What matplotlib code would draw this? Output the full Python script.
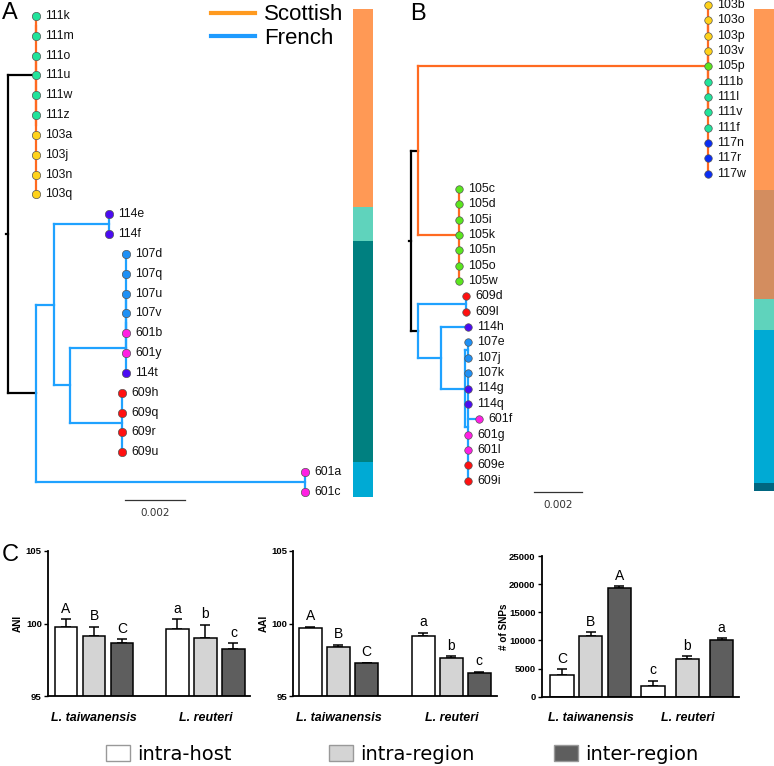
import matplotlib
matplotlib.use('Agg')
import matplotlib.pyplot as plt
from matplotlib.lines import Line2D
from matplotlib.patches import Patch
import numpy as np

plt.rcParams['font.family'] = ['Liberation Sans', 'DejaVu Sans']

# ---------------- data ----------------
# Phylogenies (Newick, branch lengths in substitutions/site)
TREE_A = ("(((111k:0,111m:0):0,(111o:0,111u:0,111w:0,111z:0,103a:0,103j:0,103n:0,103q:0):0):0.00093,"
          "(((114e:0,114f:0):0.00183,((((107d:0,107q:0,107u:0,107v:0,601b:0):0,601y:0):0,114t:0):0.00187,"
          "(609h:0,609q:0,609r:0,609u:0):0.00173):0.00053):0.0006,(601a:0,601c:0):0.00897):0.00093);")
TREE_B = ("((((103b:0,103o:0,103p:0):0,(103v:0,105p:0,111b:0,111l:0,111v:0,111f:0,117n:0,117r:0,117w:0):0):0.01208,"
          "(105c:0,105d:0,105i:0,105k:0,105n:0,105o:0,105w:0):0.00171):0.00029,"
          "((609d:0,609l:0):0.002,(114h:0.00111,((107e:0,107j:0):0.00011,"
          "(107k:0,114g:0,114q:0,601f:0.00047,601g:0,601l:0,609e:0,609i:0):0.00011):0.001):0.00096):0.00029);")
REGIONS = ['Scottish', 'French']
HOSTS = ['103', '105', '111', '114', '117', '107', '601', '609']
HOST_COLORS = ['#FFD21A', '#5BE61E', '#22E39B', '#4B0BF2', '#0A2DF5', '#1E90F5', '#FF1FE3', '#FF1010']
SCALE_LEN = 0.002

# cluster bars (percent of bar length)
BAR_A = [40.6, 7.0, 45.3, 7.1]
BAR_A_COLORS = ['#FF9955', '#5FD3BC', '#008080', '#00AAD4']
BAR_B = [37.6, 22.6, 6.4, 31.7, 1.7]
BAR_B_COLORS = ['#FF9955', '#D38D5F', '#5FD3BC', '#00AAD4', '#006680']

# panel C
GROUPS = ['L. taiwanensis', 'L. reuteri']
CLASSES = ['intra-host', 'intra-region', 'inter-region']
ANI_MEAN = [[99.78, 99.14, 98.63], [99.62, 98.98, 98.22]]
ANI_ERR = [[0.50, 0.64, 0.30], [0.69, 0.92, 0.41]]
ANI_LET = [['A', 'B', 'C'], ['a', 'b', 'c']]
AAI_MEAN = [[99.67, 98.40, 97.25], [99.14, 97.60, 96.60]]
AAI_ERR = [[0.10, 0.14, 0.05], [0.23, 0.16, 0.07]]
AAI_LET = [['A', 'B', 'C'], ['a', 'b', 'c']]
SNP_MEAN = [[3875, 10714, 19232], [1964, 6679, 10125]]
SNP_ERR = [[1020, 786, 410], [840, 535, 232]]
SNP_LET = [['C', 'B', 'A'], ['c', 'b', 'a']]

# ---------------- styles ----------------
REGION_LINE = ['#FF6A21', '#1FA2FF']
REGION_LEG = ['#FF9A1F', '#1E9BFF']
CLASS_COLORS = ['white', '#D4D4D4', '#5E5E5E']

W, H = 774, 766
fig = plt.figure(figsize=(W / 100, H / 100), dpi=100)


def px_axes(l, t, r, b):
    return fig.add_axes([l / W, 1 - b / H, (r - l) / W, (b - t) / H])


# ---------------- tree helpers ----------------
def parse(s):
    pos = 0

    def node():
        nonlocal pos
        children = []
        if s[pos] == '(':
            pos += 1
            while True:
                children.append(node())
                if s[pos] == ',':
                    pos += 1
                    continue
                if s[pos] == ')':
                    pos += 1
                    break
        start = pos
        while s[pos] not in ':,);':
            pos += 1
        name = s[start:pos]
        length = 0.0
        if s[pos] == ':':
            pos += 1
            start = pos
            while s[pos] not in ',);':
                pos += 1
            length = float(s[start:pos])
        return {'name': name, 'len': length, 'children': children}

    return node()


def layout(tree):
    leaves = []

    def rec(n, x):
        n['x'] = x + n['len']
        if not n['children']:
            n['y'] = len(leaves)
            leaves.append(n)
        else:
            for c in n['children']:
                rec(c, n['x'])
            n['y'] = (n['children'][0]['y'] + n['children'][-1]['y']) / 2
    tree['len'] = 0.0
    rec(tree, 0.0)
    return leaves


def draw_tree(ax, tree, lw, ms, fs, stub):
    leaves = layout(tree)

    def rec(n, color):
        if not n['children']:
            return
        ax.plot([n['x'], n['x']], [n['children'][0]['y'], n['children'][-1]['y']],
                color=color, lw=lw, solid_capstyle='projecting', zorder=2)
        for c in n['children']:
            ax.plot([n['x'], c['x']], [c['y'], c['y']], color=color, lw=lw,
                    solid_capstyle='projecting', zorder=2)
    root = tree
    ax.plot([root['x'], root['x']], [root['children'][0]['y'], root['children'][-1]['y']],
            color='black', lw=lw, zorder=2)
    ax.plot([root['x'] - stub, root['x']], [root['y'], root['y']], color='black', lw=lw, zorder=2)
    for i, c in enumerate(root['children']):
        ax.plot([root['x'], c['x']], [c['y'], c['y']], color='black', lw=lw, zorder=2)

        def sub(n, col):
            rec(n, col)
            for cc in n['children']:
                sub(cc, col)
        sub(c, REGION_LINE[i])
    for lf in leaves:
        col = HOST_COLORS[HOSTS.index(lf['name'][:3])]
        ax.plot(lf['x'], lf['y'], 'o', ms=ms, mfc=col, mec='#555555', mew=0.5, zorder=3)
        ax.annotate(lf['name'], (lf['x'], lf['y']), xytext=(6.8, 0), textcoords='offset points',
                    va='center', ha='left', fontsize=fs, color='#111111')
    return leaves


# ---------------- Tree A ----------------
kA = 0.002 / 60
sA = 19.83
axA = px_axes(0, 0, 390, 530)
axA.set_xlim(-8 * kA, 382 * kA)
axA.set_ylim((530 - 16) / sA, -16 / sA)
axA.axis('off')
draw_tree(axA, parse(TREE_A), lw=1.6, ms=6.0, fs=8.8, stub=2 * kA)
yA = (500 - 16) / sA
axA.plot([117 * kA, 117 * kA + SCALE_LEN], [yA, yA], color='#333333', lw=0.9)
axA.text(117 * kA + SCALE_LEN / 2, (513 - 16) / sA, '0.002', ha='center', va='center',
         fontsize=7.5, family=['Liberation Sans Narrow', 'DejaVu Sans'], color='#333333')

# ---------------- Tree B ----------------
kB = 0.002 / 48
sB = 15.34
axB = px_axes(390, 0, 754, 530)
axB.set_xlim(-21 * kB, 343 * kB)
axB.set_ylim((530 - 5) / sB, -5 / sB)
axB.axis('off')
draw_tree(axB, parse(TREE_B), lw=1.6, ms=5.4, fs=8.9, stub=2 * kB)
yB = (492 - 5) / sB
axB.plot([123 * kB, 123 * kB + SCALE_LEN], [yB, yB], color='#333333', lw=0.9)
axB.text(123 * kB + SCALE_LEN / 2, (505 - 5) / sB, '0.002', ha='center', va='center',
         fontsize=7.5, family=['Liberation Sans Narrow', 'DejaVu Sans'], color='#333333')


# ---------------- cluster bars ----------------
def cluster_bar(ax, vals, cols):
    bottoms = np.concatenate([[0], np.cumsum(vals)[:-1]])
    ax.bar(0, vals, bottom=bottoms, width=1.0, color=cols, edgecolor='none')
    ax.set_xlim(-0.5, 0.5)
    ax.set_ylim(sum(vals), 0)
    ax.axis('off')


cluster_bar(px_axes(353, 9, 373, 497), BAR_A, BAR_A_COLORS)
cluster_bar(px_axes(754, 9, 780, 491), BAR_B, BAR_B_COLORS)

# legend for regions
leg_handles = [Line2D([], [], color=c, lw=3) for c in REGION_LEG]
fig.legend(leg_handles, REGIONS, loc='upper left', bbox_to_anchor=(211 / W, 1 - 4.5 / H),
           frameon=False, fontsize=16, handlelength=2.0, handletextpad=0.4,
           labelspacing=0.12, borderpad=0, borderaxespad=0)

# panel letters
fig.text(2 / W, 1 - 2 / H, 'A', fontsize=17, ha='left', va='top')
fig.text(410 / W, 1 - 3 / H, 'B', fontsize=17, ha='left', va='top')
fig.text(2 / W, 1 - 544 / H, 'C', fontsize=17, ha='left', va='top')


# ---------------- Panel C bars ----------------
def bar_panel(rect, means, errs, lets, ylim, yticks, ylabel, g2_start, g2_step, xl, label_x):
    ax = px_axes(*rect)
    width = 0.82
    for g in range(2):
        start = 0 if g == 0 else g2_start
        step = 1 if g == 0 else g2_step
        pos = [start + j * step for j in range(3)]
        ax.bar(pos, means[g], width=width, color=CLASS_COLORS, edgecolor='black', lw=1.1, zorder=2)
        ax.errorbar(pos, means[g], yerr=[[0, 0, 0], errs[g]], fmt='none', ecolor='black',
                    elinewidth=1.1, capsize=3.8, capthick=1.1, zorder=1)
        for p, m, e, t in zip(pos, means[g], errs[g], lets[g]):
            ax.annotate(t, (p, m + e), xytext=(0, 2.5), textcoords='offset points',
                        ha='center', va='bottom', fontsize=10)
        ax.annotate(GROUPS[g], xy=(pos[1], 0), xycoords=('data', 'axes fraction'),
                    xytext=(0, -15.5), textcoords='offset points', ha='center', va='center',
                    fontsize=9, fontweight='bold', fontstyle='italic')
    ax.set_xlim(*xl)
    ax.set_ylim(*ylim)
    ax.set_yticks(yticks)
    ax.set_xticks([])
    ax.spines['top'].set_visible(False)
    ax.spines['right'].set_visible(False)
    ax.spines['left'].set_linewidth(1.3)
    ax.spines['bottom'].set_linewidth(1.3)
    ax.tick_params(axis='y', length=3, width=1, pad=1.5, labelsize=6.8)
    for lab in ax.get_yticklabels():
        lab.set_fontweight('bold')
    ax.set_ylabel(ylabel, fontsize=7.2, fontweight='bold')
    ax.yaxis.set_label_coords(label_x, 0.5)
    ax.set_facecolor('none')
    return ax


bar_panel((48, 551, 250, 696), ANI_MEAN, ANI_ERR, ANI_LET, (95, 105), [95, 100, 105], 'ANI',
          3.98, 1.0, (-0.643, 6.57), -25 / 202)
bar_panel((293.3, 551, 497, 696), AAI_MEAN, AAI_ERR, AAI_LET, (95, 105), [95, 100, 105], 'AAI',
          4.03, 1.0, (-0.614, 6.66), -25 / 204)
bar_panel((541.7, 556, 739.3, 696.7), SNP_MEAN, SNP_ERR, SNP_LET, (0, 25000),
          [0, 5000, 10000, 15000, 20000, 25000], '# of SNPs',
          3.18, 1.19, (-0.707, 6.18), -33 / 198)

# class legend
for cls, col, x0 in zip(CLASSES, CLASS_COLORS, [106, 329, 554]):
    fig.legend([Patch(facecolor=col, edgecolor='#999999', lw=1)], [cls], loc='center left',
               bbox_to_anchor=(x0 / W, 1 - 754 / H), frameon=False,
               prop={'family': 'DejaVu Sans', 'size': 14}, handlelength=1.24, handleheight=0.88,
               handletextpad=0.36, borderpad=0, borderaxespad=0)

fig.savefig('out.png', dpi=100)
